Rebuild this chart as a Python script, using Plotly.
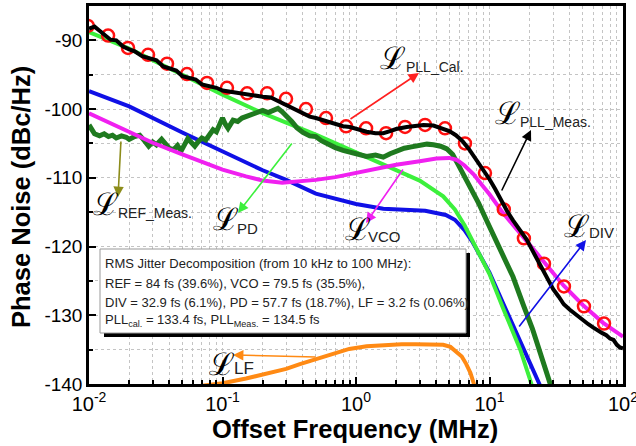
import plotly.graph_objects as go

# ---------------- data (MHz, dBc/Hz) ----------------
meas_f = [0.010, 0.011, 0.012, 0.0135, 0.0145, 0.016, 0.018, 0.020, 0.022, 0.025, 0.028, 0.032, 0.036,
          0.040, 0.045, 0.050, 0.057, 0.063, 0.070, 0.080, 0.090, 0.10, 0.115, 0.13, 0.15, 0.17, 0.2,
          0.23, 0.26, 0.3, 0.35, 0.4, 0.45, 0.5, 0.6, 0.7, 0.8, 0.9, 1.0, 1.2, 1.4, 1.6, 1.8, 2.0, 2.4,
          2.8, 3.2, 3.8, 4.4, 5.0, 5.6, 6.3, 7.0, 8.0, 9.0, 10, 11, 12, 13.5, 15, 17, 19, 21, 24, 27,
          30, 33, 36, 40, 45, 50, 55, 60, 66, 70, 75, 80, 85, 90, 95, 100]
meas_v = [-88.3, -88.0, -88.6, -89.4, -89.9, -90.0, -90.9, -91.3, -91.6, -92.3, -92.6, -92.9, -93.8,
          -94.1, -94.4, -95.2, -95.4, -95.7, -96.4, -96.7, -96.9, -97.3, -97.5, -97.7, -97.9, -98.1, -98.2,
          -98.3, -98.8, -99.3, -100.0, -100.6, -101.1, -101.3, -101.8, -102.2, -102.5, -102.6, -102.9, -103.3,
          -103.5, -103.5, -103.2, -102.9, -102.6, -102.5, -102.3, -102.4, -102.8, -103.2, -103.8, -104.7,
          -105.8, -107.4, -108.8, -110.2, -111.6, -113.0, -114.8, -116.2, -117.6, -119.0, -120.6, -122.6,
          -124.6, -126.2, -127.3, -128.4, -129.2, -130.0, -130.8, -131.3, -131.8, -132.2, -132.6, -132.9,
          -133.4, -133.6, -134.3, -134.7, -134.8]

cal_f = [0.0098, 0.0139, 0.0196, 0.0277, 0.0384, 0.0542, 0.0766, 0.108, 0.153, 0.216, 0.299, 0.422,
         0.596, 0.842, 1.19, 1.68, 2.33, 3.29, 4.64, 6.55, 9.25, 12.8, 18.1, 25.6, 36.1, 51.0, 72.1]
cal_v = [-87.9, -89.3, -91.1, -92.1, -93.4, -94.9, -96.2, -96.9, -97.7, -97.7, -98.5, -100.0,
         -101.3, -102.5, -102.8, -103.5, -102.6, -102.3, -102.8, -105.0, -109.3, -114.6, -118.8,
         -122.5, -125.8, -128.7, -131.2]

pd_f = [0.01, 0.02, 0.05, 0.1, 0.2, 0.5, 1.0, 2.0, 3.0, 4.5, 5.5, 6.5, 7.5, 9, 10, 12.6, 15, 17, 20, 22]
pd_v = [-88.8, -91.2, -95.0, -97.9, -100.6, -103.7, -106.3, -108.8, -110.4, -112.7, -114.6, -116.9,
        -119.3, -122.2, -124.0, -128.9, -132.3, -135.0, -139.2, -141.8]

div_f = [0.01, 0.02, 0.05, 0.1, 0.2, 0.3, 0.5, 1.0, 1.6, 3.3, 4.7, 5.5, 6.5, 7.5, 9, 10, 12.6, 15,
         17.9, 21, 24, 27]
div_v = [-97.4, -99.6, -103.4, -106.2, -108.9, -110.3, -112.3, -113.8, -114.5, -114.8, -115.4, -116.1,
         -117.6, -119.4, -122.2, -123.8, -128.2, -131.5, -134.6, -137.6, -140.3, -142.5]

vco_f = [0.01, 0.015, 0.02, 0.03, 0.05, 0.07, 0.1, 0.15, 0.2, 0.28, 0.4, 0.5, 0.7, 1.0, 1.5, 2.0, 3.0,
         4.0, 5.0, 5.7, 6.5, 7.6, 9, 10, 12.6, 15, 18, 22, 27, 36, 50, 71, 100]
vco_v = [-100.6, -102.2, -103.3, -104.9, -106.6, -107.7, -108.8, -109.8, -110.4, -110.7, -110.5,
         -110.3, -109.9, -109.3, -108.6, -108.1, -107.6, -107.2, -107.1, -107.4, -108.2, -109.5,
         -111.3, -112.4, -115.1, -116.8, -118.6, -120.7, -122.8, -125.7, -128.5, -131.1, -133.1]

ref_f = [0.010, 0.0105, 0.011, 0.012, 0.013, 0.014, 0.015, 0.016, 0.0175, 0.019, 0.020, 0.022, 0.024,
         0.026, 0.028, 0.030, 0.032, 0.035, 0.037, 0.040, 0.043, 0.046, 0.049, 0.052, 0.055, 0.058,
         0.062, 0.066, 0.070, 0.075, 0.080, 0.085, 0.090, 0.095, 0.100, 0.105, 0.11, 0.12, 0.13, 0.14,
         0.16, 0.18, 0.20, 0.22, 0.24, 0.26, 0.28, 0.30, 0.33, 0.36, 0.40, 0.45, 0.50, 0.55, 0.6, 0.7,
         0.8, 0.9, 1.0, 1.2, 1.4, 1.6, 1.8, 2.0, 2.3, 2.6, 3.0, 3.4, 3.8, 4.3, 4.8, 5.3, 5.8, 6.3, 7.0,
         8.3, 9.4, 11, 13, 15, 18, 21, 24, 28, 32]
ref_v = [-102.3, -103.0, -103.6, -103.9, -103.6, -104.0, -103.8, -104.2, -103.9, -104.1, -104.4, -104.0,
         -103.8, -104.6, -105.4, -104.8, -105.2, -104.4, -104.9, -105.7, -105.9, -105.3, -106.1, -105.0,
         -104.3, -104.8, -105.4, -104.7, -104.2, -104.5, -103.6, -103.0, -103.3, -102.0, -101.3, -102.2,
         -102.8, -101.6, -101.8, -101.3, -100.9, -100.6, -100.2, -100.5, -100.1, -99.9, -100.4, -100.9,
         -101.8, -102.7, -103.4, -103.9, -104.0, -104.6, -105.0, -105.6, -106.0, -106.3, -106.6, -106.9,
         -106.7, -107.0, -106.5, -106.1, -105.7, -105.5, -105.3, -105.1, -105.2, -105.4, -105.8, -106.6,
         -108.0, -109.3, -111.2, -113.7, -116.0, -118.8, -121.8, -124.4, -128.6, -132.0, -135.5, -140.0,
         -143.0]

lf_f = [0.05, 0.08, 0.1, 0.15, 0.215, 0.3, 0.38, 0.54, 0.7, 0.89, 1.2, 1.59, 2.2, 2.8, 3.6, 4.5, 5.1,
        5.6, 6.2, 6.7, 7.2, 7.65, 8.2]
lf_v = [-140.6, -140.2, -139.9, -139.2, -138.5, -137.8, -137.1, -136.2, -135.4, -134.9, -134.5, -134.3,
        -134.2, -134.2, -134.2, -134.3, -134.6, -135.2, -136.0, -137.1, -138.4, -140.0, -142.0]

x_tickvals = [0.01, 0.1, 1, 10, 100]
x_ticktext = ["10<sup>-2</sup>", "10<sup>-1</sup>", "10<sup>0</sup>", "10<sup>1</sup>", "10<sup>2</sup>"]
y_tickvals = [-140, -130, -120, -110, -100, -90]
y_ticktext = ["-140", "-130", "-120", "-110", "-100", "-90"]

box_lines = [
    "RMS Jitter Decomposition (from 10 kHz to 100 MHz):",
    "REF = 84 fs (39.6%), VCO = 79.5 fs (35.5%),",
    "DIV = 32.9 fs (6.1%), PD = 57.7 fs (18.7%), LF = 3.2 fs (0.06%)",
    "PLL<sub>cal.</sub> = 133.4 fs, PLL<sub>Meas.</sub> = 134.5 fs",
]

# ---------------- figure ----------------
FONT = "Liberation Sans, Arial, sans-serif"
W, H = 636, 446
L, R, T, B = 89, 13, 6, 62
PW, PH = W - L - R, H - T - B


def P(px, py):
    return (px - L) / PW, (H - B - py) / PH


fig = go.Figure()
fig.add_trace(go.Scatter(x=lf_f, y=lf_v, mode="lines", line=dict(color="#ff8a14", width=4)))
fig.add_trace(go.Scatter(x=div_f, y=div_v, mode="lines", line=dict(color="#1010e6", width=4)))
fig.add_trace(go.Scatter(x=pd_f, y=pd_v, mode="lines", line=dict(color="#3cf03c", width=4)))
fig.add_trace(go.Scatter(x=ref_f, y=ref_v, mode="lines", line=dict(color="#1f7a1f", width=5)))
fig.add_trace(go.Scatter(x=vco_f, y=vco_v, mode="lines", line=dict(color="#f020f0", width=4)))
fig.add_trace(go.Scatter(x=cal_f, y=cal_v, mode="markers",
                         marker=dict(symbol="circle-open", size=12, color="#ff1010",
                                     line=dict(width=2.5, color="#ff1010"))))
fig.add_trace(go.Scatter(x=meas_f, y=meas_v, mode="lines", line=dict(color="black", width=4)))

minor_x = [m * 10 ** e for e in (-2, -1, 0, 1) for m in range(2, 10)]
grid = dict(showgrid=True, gridcolor="#c4c4c4", griddash="dot", gridwidth=1)

fig.update_xaxes(type="log", range=[-2, 2], tickmode="array", tickvals=x_tickvals,
                 ticktext=x_ticktext, ticks="inside", ticklen=7, tickwidth=2, tickcolor="black",
                 showline=True, linecolor="black", linewidth=2.5, mirror=True,
                 ticklabeloverflow="allow", automargin=False,
                 tickfont=dict(family=FONT, size=20, color="black"), zeroline=False,
                 minor=dict(tickmode="array", tickvals=minor_x, ticks="inside", ticklen=4,
                            tickwidth=1.5, tickcolor="black", **grid),
                 **grid)
fig.update_yaxes(range=[-140, -85], tickmode="array", tickvals=y_tickvals, ticktext=y_ticktext,
                 ticks="inside", ticklen=7, tickwidth=2, tickcolor="black",
                 showline=True, linecolor="black", linewidth=2.5, mirror=True, automargin=False,
                 tickfont=dict(family=FONT, size=19, color="black"), zeroline=False,
                 minor=dict(dtick=5, ticks="inside", ticklen=4, tickwidth=1.5, tickcolor="black", **grid),
                 **grid)

shapes = []
x0, y1 = P(104, 253)
x1, y0 = P(470, 337)
shapes.append(dict(type="rect", xref="paper", yref="paper", x0=x0, x1=x1, y0=y0, y1=y1,
                   fillcolor="black", line=dict(width=0), layer="above"))
x0, y1 = P(100, 249)
x1, y0 = P(466, 333)
shapes.append(dict(type="rect", xref="paper", yref="paper", x0=x0, x1=x1, y0=y0, y1=y1,
                   fillcolor="white", line=dict(width=1, color="#999999"), layer="above"))

ann = []
for txt, py in zip(box_lines, [263, 283, 302, 320]):
    x, y = P(103, py)
    ann.append(dict(x=x, y=y, xref="paper", yref="paper", xanchor="left", yanchor="middle",
                    text=txt, showarrow=False, font=dict(family=FONT, size=13, color="#222222")))

# arrows: head pixel, tail pixel, colour
arrows = [((419, 73), (349, 120), "#ff2020"),
          ((531, 130), (501, 192), "black"),
          ((118, 197), (121, 140), "#8c8c1a"),
          ((238, 213), (293, 142), "#3cf03c"),
          ((366, 223), (404, 168), "#f020f0"),
          ((586, 240), (518, 328), "#1010e6"),
          ((233, 355), (317, 357), "#ff8a14")]
for (hx, hy), (tx, ty), c in arrows:
    x, y = P(hx, hy)
    ann.append(dict(x=x, y=y, xref="paper", yref="paper", ax=tx - hx, ay=ty - hy, text="",
                    showarrow=True, arrowhead=2, arrowsize=1.3, arrowwidth=1.6, arrowcolor=c))

# script-L labels: (L centre px), (subscript left px), sub text, sub size
labels = [((393, 58), (404, 67), "PLL_Cal.", 14),
          ((508, 113), (518, 122), "PLL_Meas.", 14),
          ((106, 204), (116, 213), "REF_Meas.", 14),
          ((226, 219), (235, 228), "PD", 15),
          ((358, 229), (366, 236), "VCO", 15),
          ((577, 226), (587, 233), "DIV", 15),
          ((222, 364), (232, 368), "LF", 17)]
for (lx, ly), (sx, sy), sub, ss in labels:
    x, y = P(lx, ly)
    ann.append(dict(x=x, y=y, xref="paper", yref="paper", xanchor="center", yanchor="middle",
                    text="ℒ", showarrow=False, font=dict(family="DejaVu Serif", size=31, color="black")))
    x, y = P(sx, sy)
    ann.append(dict(x=x, y=y, xref="paper", yref="paper", xanchor="left", yanchor="middle",
                    text=sub, showarrow=False, font=dict(family=FONT, size=ss, color="#222222")))

# axis titles
x, y = P(355, 429)
ann.append(dict(x=x, y=y, xref="paper", yref="paper", xanchor="center", yanchor="middle",
                text="<b>Offset Frequency (MHz)</b>", showarrow=False,
                font=dict(family=FONT, size=25.5, color="black")))
x, y = P(21, 197)
ann.append(dict(x=x, y=y, xref="paper", yref="paper", xanchor="center", yanchor="middle",
                text="<b>Phase Noise (dBc/Hz)</b>", showarrow=False, textangle=-90,
                font=dict(family=FONT, size=25.5, color="black")))

fig.update_layout(width=W, height=H, margin=dict(l=L, r=R, t=T, b=B, autoexpand=False),
                  showlegend=False, paper_bgcolor="white", plot_bgcolor="white",
                  shapes=shapes, annotations=ann)

fig.write_html("out.html")
